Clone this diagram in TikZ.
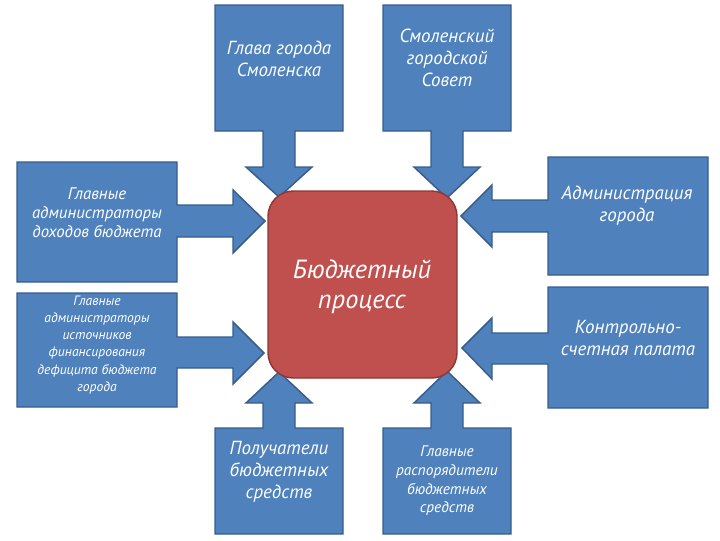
\documentclass[tikz,border=0pt]{standalone}
\usepackage{fontspec}
\setmainfont{PT Sans}
\definecolor{cblue}{HTML}{4F81BD}
\definecolor{cbord}{HTML}{385D8A}
\definecolor{cred}{HTML}{C0504D}
\definecolor{credb}{HTML}{8C3836}
\begin{document}
\begin{tikzpicture}[x=0.75pt,y=-0.75pt,
  callout/.style={fill=cblue,draw=cbord,line width=1.1pt,line join=miter},
  txt/.style={text=white,font=\itshape,align=center,inner sep=0pt},
  big/.style={font=\fontsize{14.2}{16.5}\selectfont\itshape},
  mid/.style={font=\fontsize{11.5}{14}\selectfont\itshape},
  midb/.style={font=\fontsize{12.6}{14.3}\selectfont\itshape},
  small/.style={font=\fontsize{10.2}{12.8}\selectfont\itshape}]
\useasboundingbox (0,0) rectangle (720,540);
% top-left
\draw[callout] (215,5) -- (343,5) -- (343,131) -- (295,131) -- (295,167) -- (312,167) -- (279,197) -- (246,167) -- (263,167) -- (263,131) -- (215,131) -- cycle;
% top-right
\draw[callout] (383,5) -- (511,5) -- (511,131) -- (463,131) -- (463,167) -- (480,167) -- (447,198) -- (414,167) -- (431,167) -- (431,131) -- (383,131) -- cycle;
% left upper
\draw[callout] (17,162) -- (177,162) -- (177,205) -- (233,205) -- (233,190) -- (265,221) -- (233,253) -- (233,237) -- (177,237) -- (177,282) -- (17,282) -- cycle;
% left lower
\draw[callout] (17,293) -- (177,293) -- (177,337) -- (233,337) -- (233,322) -- (264,353) -- (233,384) -- (233,368) -- (177,368) -- (177,407) -- (17,407) -- cycle;
% right upper
\draw[callout] (708,157) -- (548,157) -- (548,200) -- (492,200) -- (492,185) -- (461,216) -- (492,247) -- (492,232) -- (548,232) -- (548,275) -- (708,275) -- cycle;
% right lower
\draw[callout] (708,287) -- (548,287) -- (548,333) -- (492,333) -- (492,318) -- (462,348) -- (492,379) -- (492,364) -- (548,364) -- (548,408) -- (708,408) -- cycle;
% bottom-left
\draw[callout] (215,534) -- (343,534) -- (343,428) -- (295,428) -- (295,403) -- (312,403) -- (279,372) -- (246,403) -- (263,403) -- (263,428) -- (215,428) -- cycle;
% bottom-right
\draw[callout] (383,534) -- (511,534) -- (511,428) -- (463,428) -- (463,403) -- (480,403) -- (447,371) -- (414,403) -- (431,403) -- (431,428) -- (383,428) -- cycle;
% centre
\draw[fill=cred,draw=credb,line width=1.1pt,rounded corners=19pt] (268,191) rectangle (457,378);
% texts
\node[txt,big] (glava) at (279,59) {Глава города\\Смоленска};
\node[txt,big] (sovet) at (447,58) {Смоленский\\городской\\Совет};
\node[txt,midb] (dohod) at (97,213) {Главные\\администраторы\\доходов бюджета};
\node[txt,small] (istoch) at (97,345) {Главные\\администраторы\\источников\\финансирования\\дефицита бюджета\\города};
\node[txt,big] (admin) at (627,206) {Администрация\\города};
\node[txt,big] (ksp) at (628,338) {Контрольно-\\счетная палата};
\node[txt,big] (poluch) at (279,472) {Получатели\\бюджетных\\средств};
\node[txt,mid] (raspor) at (447,481) {Главные\\распорядители\\бюджетных\\средств};
\node[txt,font=\fontsize{19.7}{22.5}\selectfont\itshape] (bp) at (362,287) {Бюджетный\\процесс};
\end{tikzpicture}
\end{document}
